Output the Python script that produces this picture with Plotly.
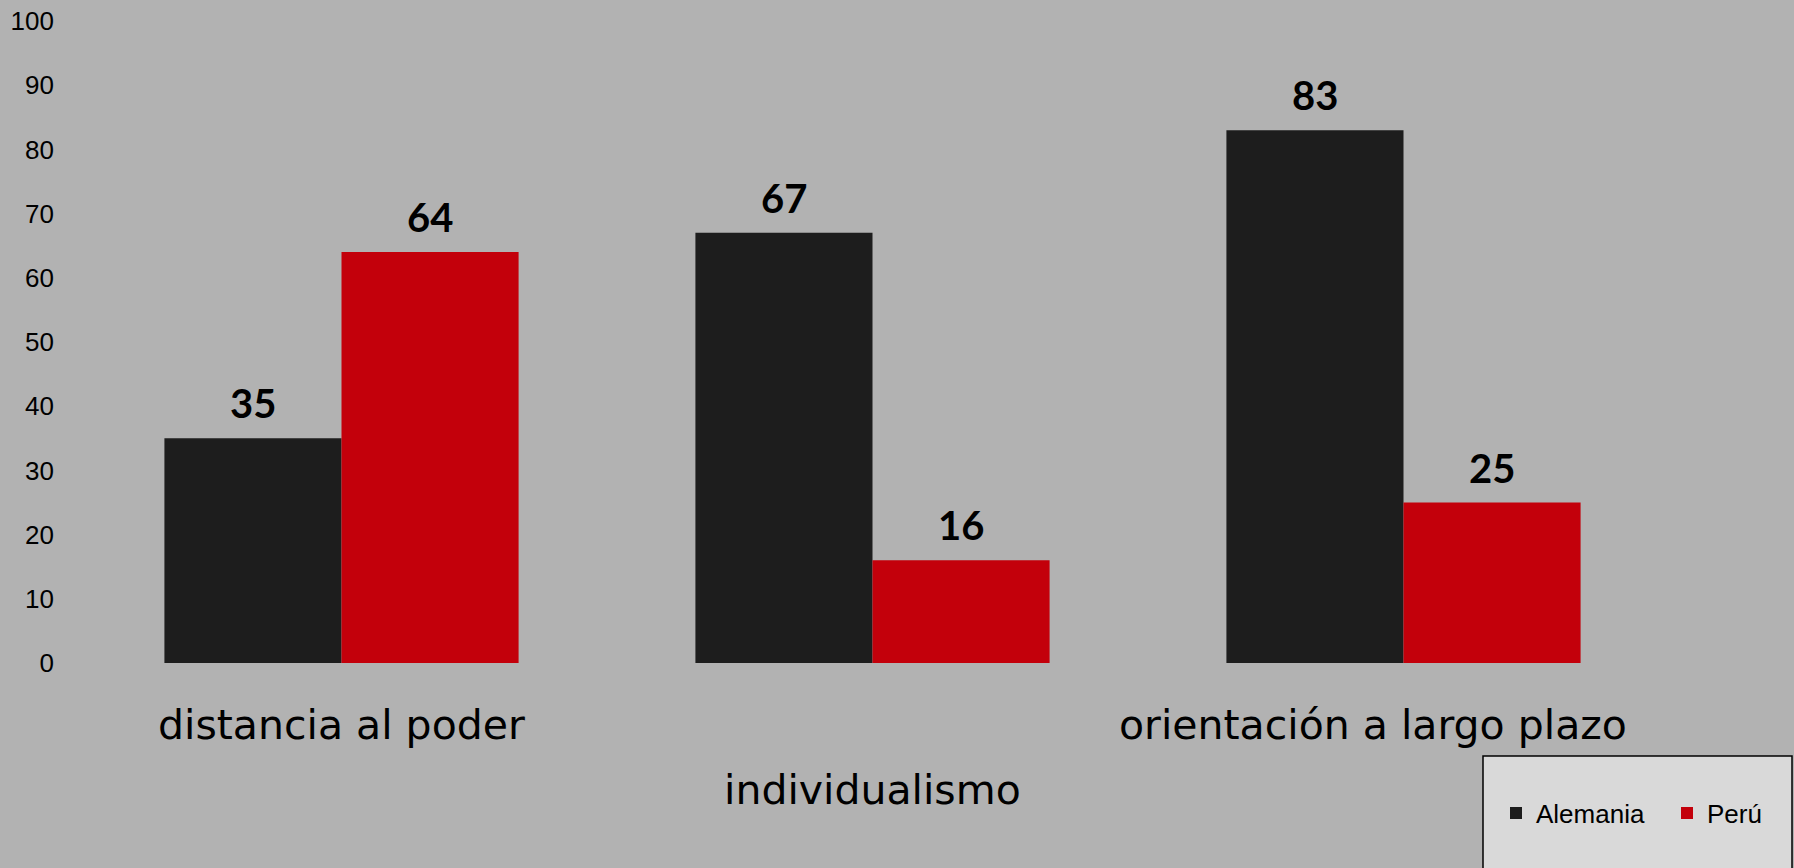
import plotly.graph_objects as go

categories = ["distancia al poder", "individualismo", "orientación a largo plazo"]
alemania = [35, 67, 83]
peru = [64, 16, 25]
series_names = ["Alemania", "Perú"]
y_ticks = [0, 10, 20, 30, 40, 50, 60, 70, 80, 90, 100]

W, H = 1794, 868
ML, MR, MT, MB = 76, 125, 21, 205
BARGAP = 0.333
BG = "#b2b2b2"
COL_A = "#1d1d1d"
COL_P = "#c3000b"

plot_w = W - ML - MR
plot_h = H - MT - MB
half_bar = plot_w / len(categories) * (1 - BARGAP) / 4

fig = go.Figure()
fig.add_trace(go.Bar(x=categories, y=alemania, name=series_names[0], legend="legend",
                     marker=dict(color=COL_A, line=dict(width=0))))
fig.add_trace(go.Bar(x=categories, y=peru, name=series_names[1], legend="legend2",
                     marker=dict(color=COL_P, line=dict(width=0))))

label_font = dict(family="Lato, Noto Sans, sans-serif", size=40, color="black")
anns = []
for vals, sh in ((alemania, -half_bar), (peru, half_bar)):
    for c, v in zip(categories, vals):
        anns.append(dict(x=c, y=v, xref="x", yref="y", text=f"<b>{v}</b>",
                         showarrow=False, xshift=sh, yshift=9, yanchor="bottom",
                         font=label_font))

cat_font = dict(family="DejaVu Sans, sans-serif", size=41, color="black")
cat_y = [-0.096, -0.198, -0.096]
cat_xshift = [0, 0, -31]
for c, yy, xs in zip(categories, cat_y, cat_xshift):
    anns.append(dict(x=c, y=yy, xref="x", yref="paper", text=c, showarrow=False,
                     xshift=xs, yanchor="middle", font=cat_font))

def px_to_paper_x(px):
    return (px - ML) / plot_w
def px_to_paper_y(py):
    return (H - MB - py) / plot_h

# legend box
fig.add_shape(type="rect", xref="paper", yref="paper",
              x0=px_to_paper_x(1483), x1=px_to_paper_x(1792),
              y0=px_to_paper_y(756), y1=px_to_paper_y(875),
              line=dict(color="black", width=1.5), fillcolor="#d9d9d9", layer="below")

leg_font = dict(family="Liberation Sans, Arial, sans-serif", size=26, color="black")
leg_common = dict(orientation="h", xref="container", yref="container",
                  xanchor="left", yanchor="middle", y=1 - 813 / H,
                  bgcolor="rgba(0,0,0,0)", borderwidth=0, font=leg_font)

fig.update_layout(
    width=W, height=H,
    margin=dict(l=ML, r=MR, t=MT, b=MB),
    paper_bgcolor=BG, plot_bgcolor=BG,
    barmode="group", bargap=BARGAP, bargroupgap=0,
    showlegend=True,
    legend=dict(x=1496 / W, **leg_common),
    legend2=dict(x=1667 / W, **leg_common),
    annotations=anns,
    xaxis=dict(showticklabels=False, showgrid=False, zeroline=False, showline=False,
               ticks="", range=[-0.5, 2.5], automargin=False),
    yaxis=dict(range=[0, 100], tickvals=y_ticks, showgrid=False, zeroline=False,
               showline=False, ticks="", ticklabelstandoff=21, automargin=False,
               tickfont=dict(family="Liberation Sans, Arial, sans-serif", size=26, color="black")),
)

fig.write_html("out.html", config={"displayModeBar": False},
               post_script="document.body.style.margin='0';")
